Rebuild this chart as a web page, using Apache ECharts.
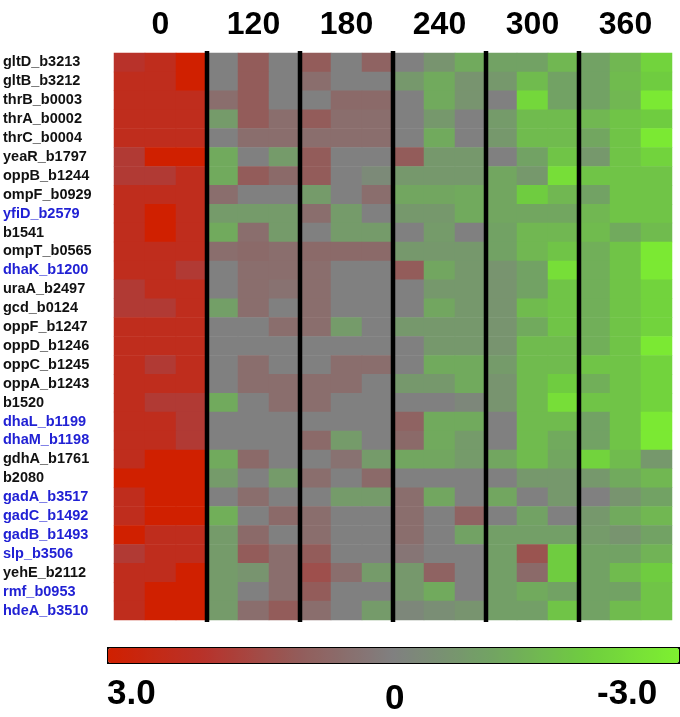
<!DOCTYPE html>
<html><head><meta charset="utf-8">
<script src="https://cdn.jsdelivr.net/npm/echarts@6/dist/echarts.min.js"></script>
<style>html,body{margin:0;padding:0;background:#fff}#c{width:680px;height:717px}</style>
</head><body><div id="c"></div>
<script>
const genes = ['gltD_b3213','gltB_b3212','thrB_b0003','thrA_b0002','thrC_b0004','yeaR_b1797','oppB_b1244','ompF_b0929','yfiD_b2579','b1541','ompT_b0565','dhaK_b1200','uraA_b2497','gcd_b0124','oppF_b1247','oppD_b1246','oppC_b1245','oppA_b1243','b1520','dhaL_b1199','dhaM_b1198','gdhA_b1761','b2080','gadA_b3517','gadC_b1492','gadB_b1493','slp_b3506','yehE_b2112','rmf_b0953','hdeA_b3510'];
const blueGenes = ['yfiD_b2579','dhaK_b1200','dhaL_b1199','dhaM_b1198','gadA_b3517','gadC_b1492','gadB_b1493','slp_b3506','rmf_b0953','hdeA_b3510'];
const timeLabels = ['0','120','180','240','300','360'];
const scaleLabels = ['3.0','0','-3.0'];
// three replicate columns per time point, one triple per gene (top to bottom)
const g0 = [[2.0,2.3,3.0],[2.3,2.3,3.0],[2.3,2.3,2.3],[2.3,2.3,2.3],[2.3,2.3,2.3],[1.8,3.0,3.0],[1.8,1.8,2.3],[2.3,2.3,2.3],[2.3,3.0,2.3],[2.3,3.0,2.3],[2.3,2.3,2.3],[2.3,2.3,1.8],[1.8,2.3,2.3],[1.8,1.8,2.3],[2.3,2.3,2.3],[2.3,2.3,2.3],[2.3,1.8,2.3],[2.3,2.3,2.3],[2.3,1.8,1.8],[2.3,2.3,1.8],[2.3,2.3,1.8],[2.3,3.0,3.0],[3.0,3.0,3.0],[2.3,3.0,3.0],[2.3,3.0,3.0],[3.0,2.3,2.3],[1.8,2.3,2.3],[2.3,2.3,3.0],[2.3,3.0,3.0],[2.3,3.0,3.0]];
const g120 = [[0,1.0,0],[0,1.0,0],[0.5,1.0,0],[-0.8,1.0,0.5],[0,0.5,0.5],[-1.2,0,-0.8],[-1.2,1.0,0.6],[0.5,0,0],[-0.8,-0.8,-0.8],[-1.2,0.5,-0.8],[0.5,0.6,0.5],[0,0.5,0.5],[0,0.5,0.4],[-0.9,0.5,0],[0,0,0.5],[0,0,0],[0,0.5,0],[0,0.5,0.5],[-1.2,0,0.5],[0,0,0],[0,0,0],[-1.2,0.6,0],[-0.8,0,-0.8],[0,0.5,0],[-1.3,0,0.6],[-0.8,0.6,0],[-0.8,1.0,0.5],[-0.8,-0.6,0.5],[-0.8,0,0.5],[-0.8,0.5,1.0]];
const g180 = [[1.0,0,0.8],[0.5,0,0],[0,0.6,0.6],[1.0,0.5,0.5],[0.5,0.5,0.5],[1.0,0,0],[1.0,0,-0.3],[-0.8,0,0.5],[0.5,-0.8,0],[0,-0.8,-0.8],[0.6,0.6,0.6],[0.5,0,0],[0.5,0,0],[0.5,0,0],[0.5,-0.8,0],[0,0,0],[0,0.5,0.5],[0.5,0.5,0],[0.5,0,0],[0,0,0],[0.6,-0.8,0],[0,0.4,-0.8],[0.5,0,0.6],[0,-0.8,-0.8],[0.5,0,0],[0.5,0,0],[1.0,0,0],[1.3,0.5,-0.8],[1.0,0,0],[0.5,0,-0.8]];
const g240 = [[0,-0.6,-1.2],[-0.7,-1.2,-0.6],[0,-1.2,-0.6],[0,-0.7,0],[0,-1.2,0],[1.0,-0.7,-0.7],[-0.7,-0.7,-0.7],[-1.1,-1.1,-1.2],[-0.7,-0.7,-1.2],[0,-0.8,0],[-0.7,-0.7,-0.7],[1.0,-1.1,-0.7],[0,-0.7,-0.7],[0,-1.1,-0.7],[-0.7,-0.7,-0.7],[0,-0.7,-0.7],[0,-1.2,-1.2],[-0.7,-0.7,-1.2],[0,0,-0.2],[0.8,-1.2,-1.2],[0.6,-1.2,-0.8],[-1.1,-1.1,-0.8],[0,0,0],[0.5,-1.1,0],[0.5,0,0.8],[0.5,0,-1.0],[0.3,0,0],[-0.7,0.8,0],[-0.7,-1.2,0],[-0.2,-0.4,-0.6]];
const g300 = [[-1.0,-1.0,-1.5],[-0.7,-1.6,-1.0],[0,-2.3,-1.0],[-0.8,-1.6,-1.6],[-0.7,-1.6,-1.6],[0,-1.0,-1.8],[-1.1,-0.7,-2.5],[-1.1,-2.0,-1.5],[-1.1,-1.1,-1.1],[-1.0,-1.5,-1.5],[-1.0,-1.5,-1.8],[-0.6,-1.0,-2.5],[-0.6,-1.0,-1.8],[-0.6,-1.6,-1.8],[-0.6,-1.2,-1.8],[-0.6,-1.6,-1.6],[-0.8,-1.6,-1.6],[-0.6,-1.6,-2.0],[-0.6,-1.6,-2.5],[0,-1.6,-1.6],[0,-1.6,-1.2],[-1.1,-1.6,-1.1],[0,-0.7,-0.7],[-1.1,0,-0.7],[0,-1.0,0],[-0.9,-0.9,-0.9],[-0.9,1.2,-2.0],[-0.9,0.6,-2.0],[-0.9,-1.2,-1.0],[-0.9,-0.9,-1.8]];
const g360 = [[-1.0,-1.5,-2.2],[-1.0,-1.6,-2.0],[-1.0,-1.5,-2.8],[-1.5,-1.8,-2.0],[-1.1,-1.8,-2.8],[-0.7,-1.8,-2.2],[-1.8,-1.8,-1.8],[-1.0,-1.8,-1.8],[-1.5,-1.8,-1.8],[-1.6,-1.2,-1.6],[-1.3,-1.8,-2.8],[-1.3,-1.8,-2.8],[-1.3,-1.8,-2.2],[-1.3,-1.8,-2.2],[-1.3,-1.8,-2.2],[-1.3,-1.8,-2.8],[-1.8,-1.8,-2.2],[-1.3,-1.8,-2.2],[-1.8,-1.8,-2.2],[-1.0,-1.8,-2.8],[-1.0,-1.8,-2.8],[-2.2,-1.6,-0.7],[-0.7,-1.2,-1.5],[0,-0.6,-1.0],[-0.7,-1.2,-1.5],[-0.8,-0.6,-1.0],[-1.0,-1.0,-1.4],[-1.0,-1.6,-2.0],[-1.0,-1.0,-1.8],[-1.0,-1.6,-1.8]];
const groups = [g0, g120, g180, g240, g300, g360];
const reps = 3;

const cols = [];
timeLabels.forEach((t, gi) => { for (let r = 0; r < reps; r++) cols.push(t + '-' + (r + 1)); });
const heat = [];
groups.forEach((g, gi) => g.forEach((row, ri) => row.forEach((v, k) => heat.push([gi * reps + k, ri, v]))));

const sepSeries = [];
for (let gi = 1; gi < timeLabels.length; gi++) {
  const b = gi * reps;
  sepSeries.push({
    type: 'line', xAxisIndex: 1, yAxisIndex: 1, silent: true, symbol: 'none', z: 10,
    lineStyle: { color: '#000', width: 4.5, cap: 'butt' },
    data: [[b, -0.1], [b, genes.length + 0.1]]
  });
}

const chart = echarts.init(document.getElementById('c'), null, { renderer: 'canvas' });
chart.setOption({
  animation: false,
  textStyle: { fontFamily: 'Liberation Sans, Arial, sans-serif' },
  grid: { left: 113, right: 8, top: 53, bottom: 97 },
  xAxis: [
    { type: 'category', data: cols, show: false },
    { type: 'value', position: 'top', min: 0, max: cols.length, interval: 1.5,
      axisLine: { show: false }, axisTick: { show: false }, splitLine: { show: false },
      axisLabel: { margin: 12, fontSize: 32, fontWeight: 'bold', color: '#000',
        fontFamily: 'Liberation Sans, Arial, sans-serif',
        formatter: v => { const k = (v - 1.5) / 3; const kr = Math.round(k); return Math.abs(k - kr) < 1e-6 ? (timeLabels[kr] || '') : ''; } } }
  ],
  yAxis: [
    { type: 'category', data: genes, inverse: true,
      axisLine: { show: false }, axisTick: { show: false }, splitLine: { show: false },
      axisLabel: { interval: 0, align: 'left', margin: 111, fontSize: 14.5, fontWeight: 'bold',
        fontFamily: 'Liberation Sans, Arial, sans-serif',
        color: (v) => blueGenes.indexOf(v) >= 0 ? '#2121d4' : '#111' } },
    { type: 'value', min: 0, max: genes.length, show: false }
  ],
  visualMap: {
    type: 'continuous', min: -3, max: 3, orient: 'horizontal', inverse: true,
    left: 107, top: 647, itemWidth: 15, itemHeight: 571, padding: 0,
    calculable: false, text: null, showLabel: false, seriesIndex: 0,
    borderColor: '#000', borderWidth: 2,
    inRange: { color: ['#7ef030', '#6fcc40', '#72a264', '#808080', '#935c5a', '#b8322a', '#d02000'] }
  },
  series: [
    { type: 'heatmap', data: heat, xAxisIndex: 0, yAxisIndex: 0, itemStyle: { borderWidth: 0 } }
  ].concat(sepSeries),
  graphic: [
    { type: 'text', left: 107, top: 677, style: { text: scaleLabels[0], font: 'bold 35px "Liberation Sans", Arial', fill: '#000' } },
    { type: 'text', left: 385, top: 682, style: { text: scaleLabels[1], font: 'bold 35px "Liberation Sans", Arial', fill: '#000' } },
    { type: 'text', left: 597, top: 677, style: { text: scaleLabels[2], font: 'bold 35px "Liberation Sans", Arial', fill: '#000' } }
  ]
});
</script></body></html>
